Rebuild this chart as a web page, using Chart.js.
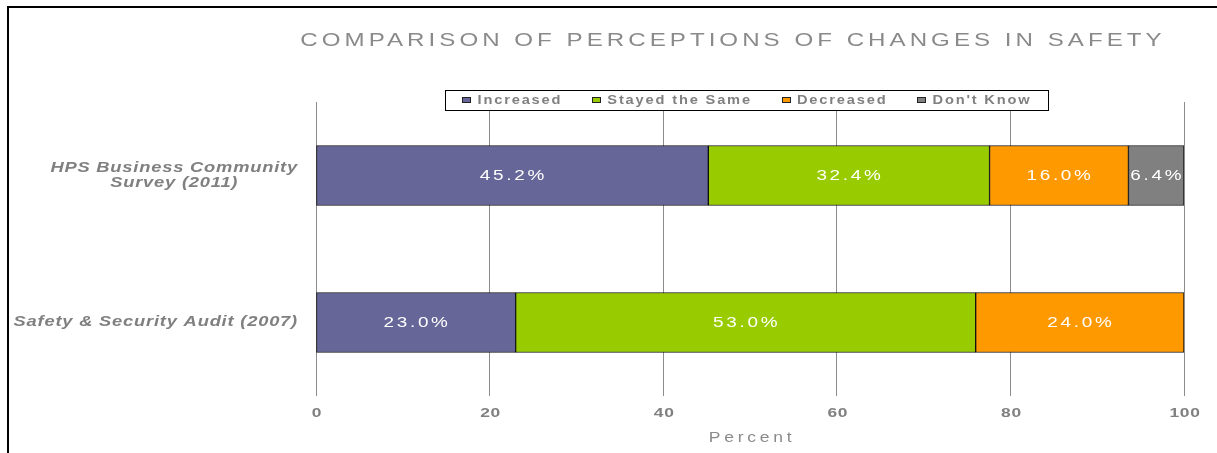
<!DOCTYPE html>
<html>
<head>
<meta charset="utf-8">
<script src="https://cdn.jsdelivr.net/npm/chart.js@4.4.1/dist/chart.umd.min.js"></script>
<style>
  html, body { margin: 0; padding: 0; background: #fff; }
  #wrap { width: 1217px; height: 453px; }
</style>
</head>
<body>
<div id="wrap"><canvas id="chart" width="1217" height="453"></canvas></div>
<script>
const categories = [['HPS Business Community', 'Survey (2011)'], 'Safety & Security Audit (2007)'];
const seriesNames = ['Increased', 'Stayed the Same', 'Decreased', "Don't Know"];
const increased = [45.2, 23.0];
const stayedSame = [32.4, 53.0];
const decreased = [16.0, 24.0];
const dontKnow = [6.4, null];
const xTicks = [0, 20, 40, 60, 80, 100];
const chartTitle = 'COMPARISON OF PERCEPTIONS OF CHANGES IN SAFETY';
const xTitle = 'Percent';

const colors = ['#666699', '#99cc00', '#ff9900', '#808080'];
const GREY = '#808080';

// draws text stretched horizontally, like the wide font of the original
function wideText(ctx, text, x, y, sx, align) {
  const w = ctx.measureText(text).width * sx;
  let left = x;
  if (align === 'center') left = x - w / 2;
  else if (align === 'right') left = x - w;
  ctx.save();
  ctx.translate(left, y);
  ctx.scale(sx, 1);
  ctx.textAlign = 'left';
  ctx.fillText(text, 0, 0);
  ctx.restore();
  return w;
}

const decor = {
  id: 'decor',
  beforeDraw(chart) {
    const ctx = chart.ctx;
    ctx.save();
    ctx.fillStyle = '#fff';
    ctx.fillRect(0, 0, chart.width, chart.height);
    ctx.restore();
  },
  afterDatasetsDraw(chart) {
    const ctx = chart.ctx;
    ctx.save();
    ctx.font = '14px "Liberation Sans"';
    ctx.letterSpacing = '2px';
    ctx.fillStyle = '#fff';
    ctx.textBaseline = 'middle';
    chart.data.datasets.forEach((ds, i) => {
      const meta = chart.getDatasetMeta(i);
      meta.data.forEach((bar, j) => {
        const v = ds.data[j];
        if (v == null || v === 0) return;
        wideText(ctx, v.toFixed(1) + '%', (bar.x + bar.base) / 2 + 1, bar.y + 1, 1.35, 'center');
      });
    });
    ctx.restore();
  },
  afterDraw(chart) {
    const ctx = chart.ctx;
    const area = chart.chartArea;
    const xScale = chart.scales.x;
    const yScale = chart.scales.y;
    ctx.save();

    // title
    ctx.font = '18px "Liberation Sans"';
    ctx.letterSpacing = '3px';
    ctx.fillStyle = '#8a8a8a';
    ctx.textBaseline = 'middle';
    wideText(ctx, chartTitle, 733, 41, 1.34, 'center');

    // legend
    ctx.font = 'bold 12px "Liberation Sans"';
    ctx.letterSpacing = '1.5px';
    const sx = 1.22, boxW = 9, boxH = 6, gap = 6, spacing = 30, padX = 17;
    const widths = chart.data.datasets.map(ds => ctx.measureText(ds.label).width * sx);
    const total = widths.reduce((a, w) => a + boxW + gap + w, 0) + spacing * (widths.length - 1);
    const lw = total + padX * 2;
    const lx = (area.left + area.right) / 2 - 3 - lw / 2;
    const ly = 90, lh = 20;
    ctx.fillStyle = '#fff';
    ctx.fillRect(lx, ly, lw, lh);
    ctx.strokeStyle = '#000';
    ctx.lineWidth = 1;
    ctx.strokeRect(Math.round(lx) + 0.5, ly + 0.5, Math.round(lw), lh);
    let cx = lx + padX;
    const cy = ly + lh / 2;
    chart.data.datasets.forEach((ds, i) => {
      ctx.fillStyle = ds.backgroundColor;
      ctx.fillRect(Math.round(cx), Math.round(cy - boxH / 2), boxW, boxH);
      ctx.strokeStyle = '#222';
      ctx.strokeRect(Math.round(cx) + 0.5, Math.round(cy - boxH / 2) + 0.5, boxW - 1, boxH - 1);
      ctx.fillStyle = GREY;
      ctx.textBaseline = 'middle';
      wideText(ctx, ds.label, cx + boxW + gap, cy + 1, sx, 'left');
      cx += boxW + gap + widths[i] + spacing;
    });

    // category labels, lines centred on each other, block right-aligned
    ctx.font = 'italic bold 14px "Liberation Sans"';
    ctx.letterSpacing = '0.6px';
    ctx.fillStyle = GREY;
    ctx.textBaseline = 'middle';
    const lsx = 1.31, lineH = 15;
    const right = area.left - 18;
    chart.data.labels.forEach((lab, i) => {
      const lines = Array.isArray(lab) ? lab : [lab];
      const maxW = Math.max(...lines.map(t => ctx.measureText(t).width * lsx));
      const mid = right - maxW / 2;
      const y0 = yScale.getPixelForTick(i) - (lines.length - 1) * lineH / 2;
      lines.forEach((t, k) => wideText(ctx, t, mid, y0 + k * lineH, lsx, 'center'));
    });

    // x tick labels
    ctx.font = 'bold 12px "Liberation Sans"';
    ctx.letterSpacing = '0.5px';
    ctx.fillStyle = GREY;
    xScale.ticks.forEach(t => {
      wideText(ctx, String(t.value), xScale.getPixelForValue(t.value) + 1, 414, 1.45, 'center');
    });

    // x axis title
    ctx.font = '14px "Liberation Sans"';
    ctx.letterSpacing = '3px';
    ctx.fillStyle = '#8a8a8a';
    wideText(ctx, xTitle, (area.left + area.right) / 2 + 2, 438, 1.25, 'center');

    // frame (top and left edges only)
    ctx.fillStyle = '#000';
    ctx.fillRect(7, 6, chart.width - 7, 2);
    ctx.fillRect(7, 6, 2, chart.height - 6);
    ctx.restore();
  }
};

const seriesData = [increased, stayedSame, decreased, dontKnow];

new Chart(document.getElementById('chart'), {
  type: 'bar',
  data: {
    labels: categories,
    datasets: seriesNames.map((name, i) => ({
      label: name,
      data: seriesData[i],
      backgroundColor: colors[i],
      borderColor: '#111',
      borderWidth: 1,
      borderSkipped: false,
      barThickness: 60
    }))
  },
  options: {
    indexAxis: 'y',
    responsive: false,
    animation: false,
    layout: { padding: { left: 10, right: 33, top: 102, bottom: 0 } },
    scales: {
      x: {
        stacked: true,
        min: 0,
        max: 100,
        afterBuildTicks(scale) { scale.ticks = xTicks.map(v => ({ value: v })); },
        afterFit(scale) { scale.height = 57; },
        grid: { color: '#8c8c8c', lineWidth: 1, drawTicks: false },
        border: { display: false },
        ticks: { display: false },
        title: { display: false }
      },
      y: {
        stacked: true,
        afterFit(scale) { scale.width = 306; },
        grid: { display: false },
        border: { display: false },
        ticks: { display: false }
      }
    },
    plugins: {
      legend: { display: false },
      title: { display: false },
      tooltip: { enabled: false }
    }
  },
  plugins: [decor]
});
</script>
</body>
</html>
